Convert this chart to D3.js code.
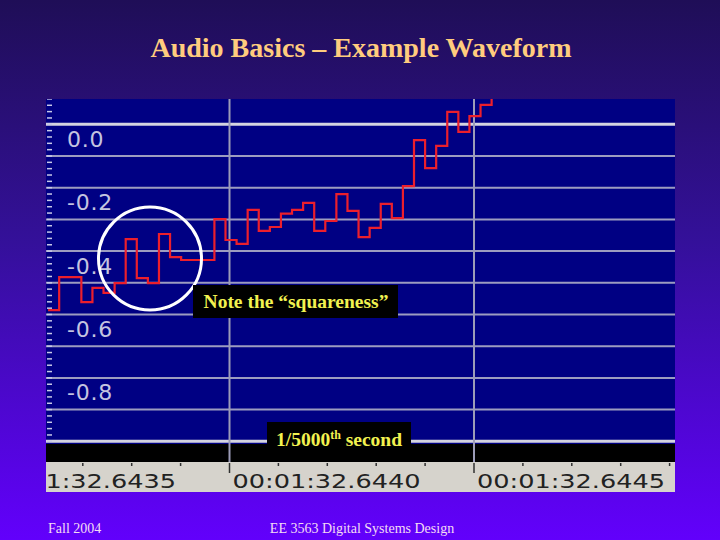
<!DOCTYPE html>
<html><head><meta charset="utf-8">
<script src="https://cdn.jsdelivr.net/npm/d3@7"></script>
<style>html,body{margin:0;padding:0;background:#200e58;}svg{display:block;}</style>
</head><body>
<script>
// ---- data ----
const sampleRate = 44100;            // Hz
const startTime = 92.643629;         // seconds, time of first visible sample
const amplitude = [
  -0.586, -0.482, -0.482, -0.561, -0.516, -0.532, -0.501, -0.362, -0.485, -0.501,
  -0.346, -0.419, -0.428, -0.428, -0.428, -0.299, -0.365, -0.377, -0.270, -0.336,
  -0.324, -0.282, -0.270, -0.248, -0.336, -0.305, -0.220, -0.273, -0.356, -0.327,
  -0.251, -0.296, -0.195, -0.050, -0.138, -0.068, 0.039, -0.024, 0.026, 0.061, 0.100
];
const gridValues = [0, -0.1, -0.2, -0.3, -0.4, -0.5, -0.6, -0.7, -0.8, -0.9, -1.0];
const yLabelValues = [0, -0.2, -0.4, -0.6, -0.8];
const yLabels = ["0.0", "-0.2", "-0.4", "-0.6", "-0.8"];
const majorTimes = [92.6435, 92.6440, 92.6445];
const timeLabels = ["1:32.6435", "00:01:32.6440", "00:01:32.6445"];
const minorTimes = [92.6436, 92.6437, 92.6438, 92.6439, 92.6441, 92.6442, 92.6443, 92.6444,
                    92.6446, 92.6447, 92.6448, 92.6449];
const title = "Audio Basics \u2013 Example Waveform";
const note1 = "Note the \u201csquareness\u201d";
const footerLeft = "Fall 2004";
const footerCenter = "EE 3563 Digital Systems Design";

// ---- layout ----
const W = 720, H = 540;
const panel = {x0: 46, x1: 675, y0: 99, y1: 444};
const ruler = {y0: 462, y1: 492};

const x = d3.scaleLinear().domain([92.6440, 92.6445]).range([229.5, 474]);
const y = d3.scaleLinear().domain([0, -1]).range([124.3, 441.3]);

const svg = d3.select("body").append("svg").attr("width", W).attr("height", H);
const defs = svg.append("defs");
const grad = defs.append("linearGradient").attr("id", "bg").attr("x1", 0).attr("y1", 0).attr("x2", 0).attr("y2", 1);
grad.append("stop").attr("offset", "0%").attr("stop-color", "#1f0e57");
grad.append("stop").attr("offset", "45%").attr("stop-color", "#34109a");
grad.append("stop").attr("offset", "100%").attr("stop-color", "#6200fc");
defs.append("clipPath").attr("id", "clipPanel").append("rect")
  .attr("x", panel.x0).attr("y", panel.y0).attr("width", panel.x1 - panel.x0).attr("height", ruler.y1 - panel.y0);
defs.append("clipPath").attr("id", "clipWave").append("rect")
  .attr("x", panel.x0).attr("y", panel.y0).attr("width", panel.x1 - panel.x0).attr("height", panel.y1 - panel.y0);

svg.append("rect").attr("width", W).attr("height", H).attr("fill", "url(#bg)");

// title
svg.append("text").attr("x", 361).attr("y", 57).attr("text-anchor", "middle")
  .attr("font-family", "'Liberation Serif', 'Times New Roman', serif").attr("font-weight", "bold")
  .attr("font-size", 28).attr("fill", "#ffcc7e").text(title);

const g = svg.append("g").attr("clip-path", "url(#clipPanel)");

// panel background
g.append("rect").attr("x", panel.x0).attr("y", panel.y0).attr("width", panel.x1 - panel.x0)
  .attr("height", panel.y1 - panel.y0).attr("fill", "#000083");
// black band under the panel
g.append("rect").attr("x", panel.x0).attr("y", panel.y1).attr("width", panel.x1 - panel.x0)
  .attr("height", ruler.y0 - panel.y1).attr("fill", "#000000");
// time ruler
g.append("rect").attr("x", panel.x0).attr("y", ruler.y0).attr("width", panel.x1 - panel.x0)
  .attr("height", ruler.y1 - ruler.y0).attr("fill", "#d6d3cc");

// horizontal grid
g.selectAll("line.hgrid").data(gridValues).enter().append("line").attr("class", "hgrid")
  .attr("x1", panel.x0).attr("x2", panel.x1)
  .attr("y1", d => y(d)).attr("y2", d => y(d))
  .attr("stroke", (d, i) => (i === 0 || i === gridValues.length - 1) ? "#d4d4e0" : "#9c9cc0")
  .attr("stroke-width", (d, i) => (i === 0 || i === gridValues.length - 1) ? 3 : 2);

// left ruler ticks
const leftTicks = d3.range(0.08, -1.001, -0.02);
g.selectAll("line.lt").data(leftTicks).enter().append("line").attr("class", "lt")
  .attr("x1", panel.x0 + 1).attr("x2", panel.x0 + 6)
  .attr("y1", d => y(d)).attr("y2", d => y(d))
  .attr("stroke", "#c8c8e8").attr("stroke-width", 1.5);

// vertical grid at major time ticks
g.selectAll("line.vgrid").data(majorTimes).enter().append("line").attr("class", "vgrid")
  .attr("x1", d => x(d)).attr("x2", d => x(d))
  .attr("y1", panel.y0).attr("y2", ruler.y0)
  .attr("stroke", "#9c9cb8").attr("stroke-width", 2);

// y labels
g.selectAll("text.yl").data(yLabelValues).enter().append("text").attr("class", "yl")
  .attr("x", 67).attr("y", d => y(d) + 22.5)
  .attr("font-family", "'DejaVu Sans', Verdana, sans-serif").attr("font-size", 22)
  .attr("letter-spacing", 0.8)
  .attr("fill", "#c4c4e0").text((d, i) => yLabels[i]);

// waveform (sample-and-hold steps)
const pts = amplitude.map((v, k) => [startTime + k / sampleRate, v]);
const line = d3.line().x(d => x(d[0])).y(d => y(d[1])).curve(d3.curveStepAfter);
svg.append("path").datum(pts).attr("clip-path", "url(#clipWave)")
  .attr("d", line).attr("fill", "none").attr("stroke", "#ec1f2c").attr("stroke-width", 2.2)
  .attr("stroke-linejoin", "miter");

// ruler ticks
g.selectAll("line.mj").data(majorTimes).enter().append("line").attr("class", "mj")
  .attr("x1", d => x(d)).attr("x2", d => x(d)).attr("y1", ruler.y0 + 1).attr("y2", ruler.y0 + 11)
  .attr("stroke", "#303030").attr("stroke-width", 1.5);
g.selectAll("line.mn").data(minorTimes).enter().append("line").attr("class", "mn")
  .attr("x1", d => x(d)).attr("x2", d => x(d)).attr("y1", ruler.y0 + 1).attr("y2", ruler.y0 + 4)
  .attr("stroke", "#303030").attr("stroke-width", 1.5);
const tl = svg.selectAll("text.tl").data(majorTimes).enter().append("text").attr("class", "tl")
  .attr("x", d => x(d) + 191).attr("y", ruler.y0 + 26).attr("text-anchor", "end")
  .attr("font-family", "'DejaVu Sans', Verdana, sans-serif").attr("font-size", 19)
  .attr("fill", "#222222").text((d, i) => timeLabels[i]);
// stretch the ruler labels horizontally like the wide screen font
const fullLen = tl.nodes()[1].getComputedTextLength();
const stretch = 188 / fullLen;
tl.each(function () {
  const L = this.getComputedTextLength();
  d3.select(this).attr("textLength", L * stretch).attr("lengthAdjust", "spacingAndGlyphs");
});

// highlight circle
svg.append("circle").attr("cx", 150).attr("cy", 258.5).attr("r", 51.5)
  .attr("fill", "none").attr("stroke", "#ffffff").attr("stroke-width", 3);

// annotation 1
svg.append("rect").attr("x", 193).attr("y", 285).attr("width", 205).attr("height", 33).attr("fill", "#000000");
svg.append("text").attr("x", 296).attr("y", 308).attr("text-anchor", "middle")
  .attr("font-family", "'Liberation Serif', 'Times New Roman', serif").attr("font-weight", "bold")
  .attr("font-size", 19.5).attr("fill", "#f2f250").text(note1);

// annotation 2
svg.append("rect").attr("x", 267).attr("y", 422).attr("width", 144).attr("height", 40).attr("fill", "#000000");
const t2 = svg.append("text").attr("x", 339).attr("y", 446).attr("text-anchor", "middle")
  .attr("font-family", "'Liberation Serif', 'Times New Roman', serif").attr("font-weight", "bold")
  .attr("font-size", 19.5).attr("fill", "#f2f250");
t2.append("tspan").text("1/5000");
t2.append("tspan").attr("font-size", 12).attr("dy", -7).text("th");
t2.append("tspan").attr("dy", 7).text(" second");

// footer
svg.append("text").attr("x", 48).attr("y", 533)
  .attr("font-family", "'Liberation Serif', 'Times New Roman', serif").attr("font-size", 14)
  .attr("fill", "#f4dcf4").text(footerLeft);
svg.append("text").attr("x", 362).attr("y", 533).attr("text-anchor", "middle")
  .attr("font-family", "'Liberation Serif', 'Times New Roman', serif").attr("font-size", 14)
  .attr("fill", "#f4dcf4").text(footerCenter);
</script>
</body></html>
